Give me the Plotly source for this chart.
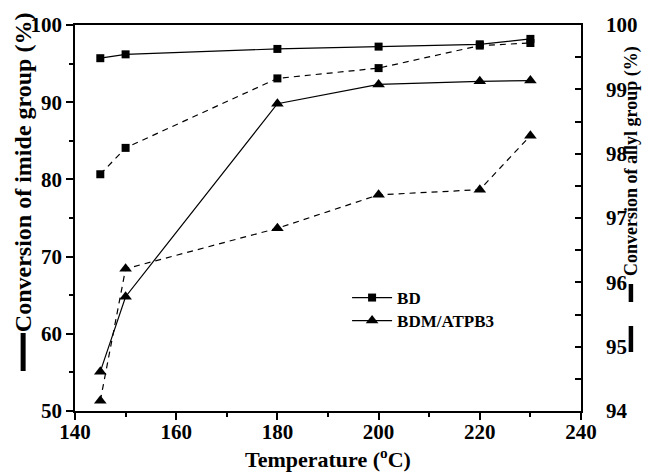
import plotly.graph_objects as go

# ---- data ----
temperature = [145, 150, 180, 200, 220, 230]
bd_imide = [95.7, 96.2, 96.9, 97.2, 97.5, 98.2]          # solid, left axis
bdm_imide = [55.1, 64.8, 89.8, 92.3, 92.7, 92.8]         # solid, left axis
bd_allyl = [97.68, 98.09, 99.17, 99.33, 99.68, 99.72]    # dashed, right axis
bdm_allyl = [94.16, 96.21, 96.84, 97.36, 97.44, 98.28]   # dashed, right axis

series_names = ["BD", "BDM/ATPB3"]
x_ticks = [140, 160, 180, 200, 220, 240]
y_left_ticks = [50, 60, 70, 80, 90, 100]
y_right_ticks = [94, 95, 96, 97, 98, 99, 100]
x_title = "Temperature (<sup>o</sup>C)"
y_left_title = "Conversion of imide group (%)"
y_right_title = "Conversion of allyl group (%)"

FONT = "Liberation Serif"
W, H = 649, 475
ML, MR, MT, MB = 75, 57, 25, 64
PW = W - ML - MR
PH = H - MT - MB


def px_x(p):
    return (p - ML) / PW


def px_y(p):
    return (H - MB - p) / PH


def bold(vals):
    return ["<b>%s</b>" % v for v in vals]


fig = go.Figure()
line_style = dict(color="black", width=1.2)
dash_style = dict(color="black", width=1.2, dash="6px,5px")

fig.add_trace(go.Scatter(x=temperature, y=bd_imide, mode="lines+markers", name=series_names[0],
                         legend="legend",
                         line=line_style, marker=dict(symbol="square", size=8, color="black")))
fig.add_trace(go.Scatter(x=temperature, y=bdm_imide, mode="lines+markers", name=series_names[1],
                         legend="legend2",
                         line=line_style, marker=dict(symbol="triangle-up", size=11, color="black")))
fig.add_trace(go.Scatter(x=temperature, y=bd_allyl, mode="lines+markers", yaxis="y2", showlegend=False,
                         line=dash_style, marker=dict(symbol="square", size=8, color="black")))
fig.add_trace(go.Scatter(x=temperature, y=bdm_allyl, mode="lines+markers", yaxis="y2", showlegend=False,
                         line=dash_style, marker=dict(symbol="triangle-up", size=11, color="black")))

tickfont = dict(family=FONT, size=21, color="black", weight="bold")
axis_common = dict(showgrid=False, zeroline=False, showline=True, linecolor="black", linewidth=1.5,
                   tickcolor="black", tickwidth=1.5, tickfont=tickfont)
legend_font = dict(family=FONT, size=17, color="black", weight="bold")

fig.update_layout(
    width=W, height=H,
    margin=dict(l=ML, r=MR, t=MT, b=MB),
    paper_bgcolor="white", plot_bgcolor="white",
    xaxis=dict(range=[140, 240], tickmode="array", tickvals=x_ticks, ticktext=bold(x_ticks),
               ticks="outside", ticklen=7, mirror=True, ticklabelstandoff=-6,
               minor=dict(ticks="outside", dtick=10, tick0=140, ticklen=4, tickcolor="black", tickwidth=1.5),
               **axis_common),
    yaxis=dict(range=[50, 100], tickmode="array", tickvals=y_left_ticks, ticktext=bold(y_left_ticks),
               ticks="outside", ticklen=7,
               minor=dict(ticks="outside", dtick=5, tick0=50, ticklen=4, tickcolor="black", tickwidth=1.5),
               **axis_common),
    yaxis2=dict(range=[94, 100], tickmode="array", tickvals=y_right_ticks, ticktext=bold(y_right_ticks),
                ticks="inside", ticklen=6, overlaying="y", side="right",
                minor=dict(ticks="inside", dtick=0.5, tick0=94, ticklen=6, tickcolor="black", tickwidth=1.5),
                ticklabelstandoff=19, **axis_common),
    showlegend=True,
    legend=dict(x=px_x(353), y=px_y(280), xanchor="left", yanchor="top", bgcolor="rgba(0,0,0,0)",
                itemwidth=40, font=legend_font),
    legend2=dict(x=px_x(353), y=px_y(303), xanchor="left", yanchor="top", bgcolor="rgba(0,0,0,0)",
                 itemwidth=40, font=legend_font),
)

fig.add_annotation(text=x_title, xref="paper", yref="paper", x=0.5, y=px_y(458), xanchor="center",
                   yanchor="middle", showarrow=False,
                   font=dict(family=FONT, size=22, color="black", weight="bold"))
fig.add_annotation(text=y_left_title, xref="paper", yref="paper", x=px_x(22), y=px_y(172), textangle=-90,
                   xanchor="center", yanchor="middle", showarrow=False,
                   font=dict(family=FONT, size=24, color="black", weight="bold"))
fig.add_annotation(text=y_right_title, xref="paper", yref="paper", x=px_x(643), y=px_y(161), textangle=-90,
                   xanchor="center", yanchor="middle", showarrow=False,
                   font=dict(family=FONT, size=18, color="black", weight="bold"))

# line-style keys next to the axis titles
fig.add_shape(type="line", xref="paper", yref="paper", x0=px_x(22), x1=px_x(22), y0=px_y(333), y1=px_y(371),
              line=dict(color="black", width=5))
fig.add_shape(type="line", xref="paper", yref="paper", x0=px_x(643), x1=px_x(643), y0=px_y(284), y1=px_y(302),
              line=dict(color="black", width=4.5))
fig.add_shape(type="line", xref="paper", yref="paper", x0=px_x(643), x1=px_x(643), y0=px_y(326), y1=px_y(352),
              line=dict(color="black", width=4.5))

fig.write_html("out.html")
